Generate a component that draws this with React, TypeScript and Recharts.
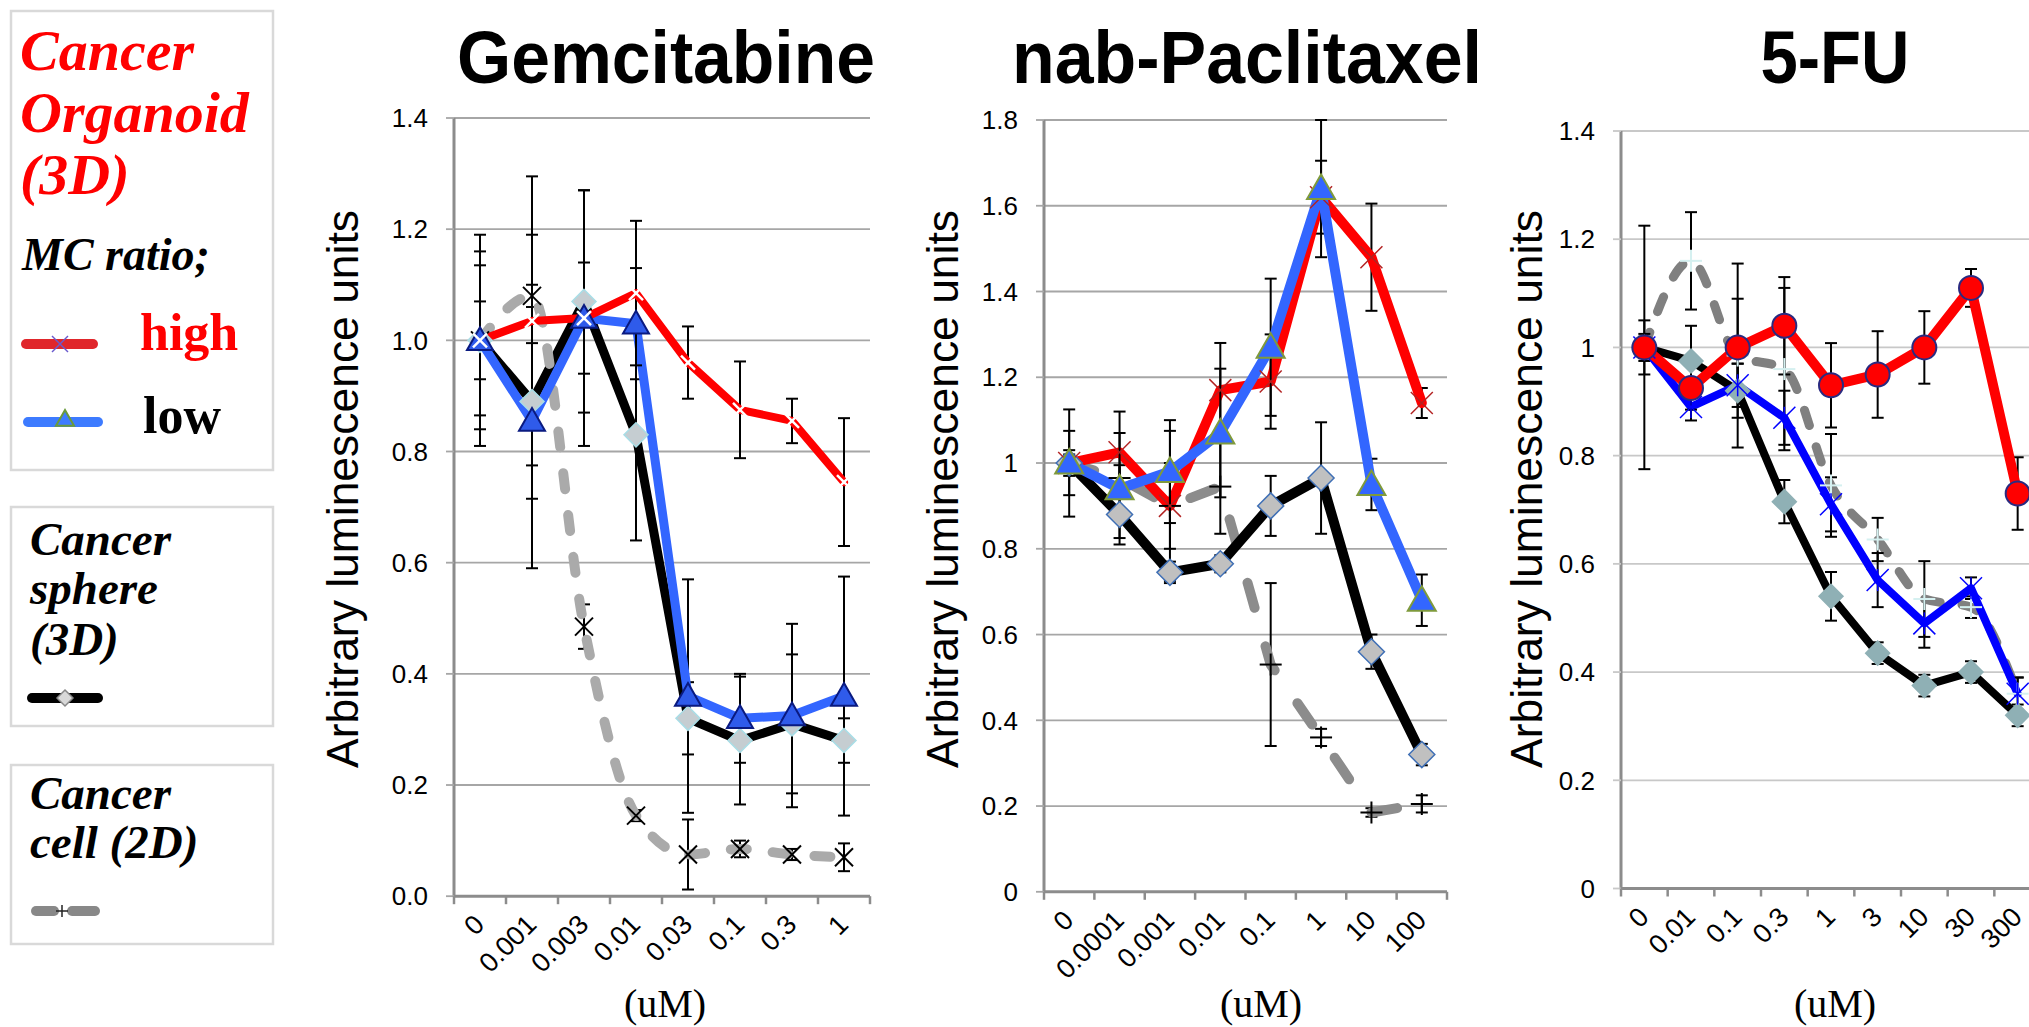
import React from 'react';
import { LineChart, Line, XAxis, YAxis, CartesianGrid, ErrorBar } from 'recharts';

// Gemcitabine
const gemDoses = ['0', '0.001', '0.003', '0.01', '0.03', '0.1', '0.3', '1'];
const gemHigh = [1.0, 1.035, 1.04, 1.085, 0.96, 0.875, 0.855, 0.745];
const gemHighErr = [0.135, 0.26, 0.23, 0.13, 0.065, 0.087, 0.04, 0.115];
const gemLow = [1.0, 0.855, 1.04, 1.03, 0.36, 0.32, 0.325, 0.36];
const gemLowErr = [0.19, 0.14, 0.1, 0.1, 0.21, 0.08, 0.165, 0.215];
const gemSphere = [1.0, 0.89, 1.07, 0.83, 0.32, 0.28, 0.31, 0.28];
const gemSphereErr = [0.16, 0.3, 0.2, 0.19, 0.065, 0.115, 0.125, 0.04];
const gemCell = [1.0, 1.08, 0.485, 0.145, 0.075, 0.085, 0.075, 0.07];
const gemCellErr = [0.07, 0.02, 0.04, 0.01, 0.063, 0.015, 0.01, 0.025];

// nab-Paclitaxel
const nabDoses = ['0', '0.0001', '0.001', '0.01', '0.1', '1', '10', '100'];
const nabHigh = [1.0, 1.025, 0.9, 1.17, 1.19, 1.62, 1.48, 1.14];
const nabHighErr = [0.075, 0.095, 0.1, 0.11, 0.11, 0.085, 0.125, 0.035];
const nabLow = [1.0, 0.94, 0.98, 1.07, 1.27, 1.64, 0.95, 0.68];
const nabLowErr = [0.125, 0.13, 0.12, 0.15, 0.16, 0.16, 0.06, 0.06];
const nabSphere = [1.0, 0.88, 0.745, 0.765, 0.9, 0.965, 0.56, 0.32];
const nabSphereErr = [0.03, 0.055, 0.025, 0.02, 0.07, 0.13, 0.04, 0.025];
const nabCell = [1.0, 0.965, 0.9, 0.945, 0.53, 0.36, 0.185, 0.205];
const nabCellErr = [0.02, 0.03, 0.175, 0.11, 0.19, 0.02, 0.01, 0.02];

// 5-FU
const fuDoses = ['0', '0.01', '0.1', '0.3', '1', '3', '10', '30', '300'];
const fuHigh = [1.0, 0.925, 1.0, 1.04, 0.93, 0.95, 1.0, 1.11, 0.73];
const fuHighErr = [0.05, 0.04, 0.09, 0.09, 0.078, 0.08, 0.067, 0.035, 0.067];
const fuLow = [1.0, 0.89, 0.93, 0.87, 0.71, 0.57, 0.49, 0.555, 0.36];
const fuLowErr = [0.025, 0.025, 0.04, 0.05, 0.05, 0.05, 0.045, 0.02, 0.03];
const fuSphere = [1.0, 0.975, 0.92, 0.715, 0.54, 0.435, 0.375, 0.4, 0.32];
const fuSphereErr = [0.02, 0.065, 0.05, 0.04, 0.045, 0.02, 0.02, 0.02, 0.02];
const fuCell = [1.0, 1.16, 0.985, 0.96, 0.745, 0.645, 0.535, 0.52, 0.36];
const fuCellErr = [0.225, 0.09, 0.17, 0.15, 0.095, 0.04, 0.07, 0.02, 0.03];

const ticks14 = [0, 0.2, 0.4, 0.6, 0.8, 1.0, 1.2, 1.4];
const ticks18 = [0, 0.2, 0.4, 0.6, 0.8, 1.0, 1.2, 1.4, 1.6, 1.8];

const AXIS = '#8c8c8c';
const SANS = "'Liberation Sans', Arial, sans-serif";
const SERIF = "'Liberation Serif', 'Times New Roman', serif";

function rows(doses: string[], cols: Record<string, number[]>) {
  return doses.map((dose, i) => {
    const r: Record<string, any> = { dose };
    Object.keys(cols).forEach((k) => (r[k] = cols[k][i]));
    return r;
  });
}

type Draw = (cx: number, cy: number) => React.ReactNode;

const marker = (draw: Draw) => (p: any) => {
  const { cx, cy, index } = p;
  if (cx == null || cy == null) return <g key={`n${index}`} />;
  return <g key={`m${index}`}>{draw(cx, cy)}</g>;
};

const cross = (s: number, c: string, w: number): Draw => (x, y) => (
  <>
    <line x1={x - s} y1={y - s} x2={x + s} y2={y + s} stroke={c} strokeWidth={w} />
    <line x1={x - s} y1={y + s} x2={x + s} y2={y - s} stroke={c} strokeWidth={w} />
  </>
);
const plus = (s: number, c: string, w: number): Draw => (x, y) => (
  <>
    <line x1={x - s} y1={y} x2={x + s} y2={y} stroke={c} strokeWidth={w} />
    <line x1={x} y1={y - s} x2={x} y2={y + s} stroke={c} strokeWidth={w} />
  </>
);
const star = (s: number, c: string, w: number): Draw => (x, y) => (
  <>
    {cross(s, c, w)(x, y)}
    <line x1={x} y1={y - s} x2={x} y2={y + s} stroke={c} strokeWidth={w} />
  </>
);
const tri = (s: number, fill: string, stroke: string): Draw => (x, y) => (
  <polygon
    points={`${x},${y - s} ${x + s},${y + s * 0.75} ${x - s},${y + s * 0.75}`}
    fill={fill}
    stroke={stroke}
    strokeWidth={2}
  />
);
const dia = (s: number, fill: string, stroke: string): Draw => (x, y) => (
  <polygon
    points={`${x},${y - s} ${x + s},${y} ${x},${y + s} ${x - s},${y}`}
    fill={fill}
    stroke={stroke}
    strokeWidth={1.5}
  />
);
const circ = (r: number, fill: string, stroke: string): Draw => (x, y) => (
  <circle cx={x} cy={y} r={r} fill={fill} stroke={stroke} strokeWidth={2} />
);

interface Series {
  key: string;
  err: string;
  color: string;
  width: number;
  dash?: string;
  curve: 'linear' | 'monotone';
  dot: (p: any) => React.ReactElement;
}

interface PanelProps {
  data: any[];
  cats: string[];
  left: number;
  top: number;
  w: number;
  h: number;
  max: number;
  ticks: number[];
  fmt: (v: number) => string;
  grid: string;
  series: Series[];
}

function Panel(p: PanelProps) {
  const band = p.w / p.cats.length;
  const XTick = (t: any) => {
    const { x, y, payload, index } = t;
    const ax = x + 6;
    const ay = y + 30;
    return (
      <g>
        <line x1={x - band / 2} y1={y} x2={x - band / 2} y2={y + 8} stroke={AXIS} strokeWidth={2.5} />
        {index === p.cats.length - 1 && (
          <line x1={x + band / 2} y1={y} x2={x + band / 2} y2={y + 8} stroke={AXIS} strokeWidth={2.5} />
        )}
        <text
          x={ax}
          y={ay}
          transform={`rotate(-45 ${ax} ${ay})`}
          textAnchor="end"
          fontSize={27}
          fontFamily={SANS}
          fill="#000"
        >
          {payload.value}
        </text>
      </g>
    );
  };
  return (
    <div style={{ position: 'absolute', left: p.left - 90, top: p.top - 20 }}>
      <LineChart
        width={p.w + 110}
        height={p.h + 120}
        data={p.data}
        margin={{ top: 20, right: 20, bottom: 0, left: 0 }}
      >
        <CartesianGrid vertical={false} stroke={p.grid} strokeWidth={1.8} />
        <XAxis
          dataKey="dose"
          scale="point"
          padding={{ left: band / 2, right: band / 2 }}
          axisLine={{ stroke: AXIS, strokeWidth: 3 }}
          tickLine={false}
          tickSize={0}
          tickMargin={0}
          tick={XTick}
          interval={0}
          height={100}
        />
        <YAxis
          domain={[0, p.max]}
          ticks={p.ticks}
          tickFormatter={p.fmt}
          width={90}
          axisLine={{ stroke: AXIS, strokeWidth: 3 }}
          tickLine={{ stroke: p.grid, strokeWidth: 1.8 }}
          tickSize={8}
          tickMargin={18}
          tick={{ fontSize: 26, fill: '#000', fontFamily: SANS }}
          allowDataOverflow
        />
        {p.series.map((s) => (
          <Line
            key={s.key}
            dataKey={s.key}
            type={s.curve}
            stroke={s.color}
            strokeWidth={s.width}
            strokeDasharray={s.dash}
            strokeLinecap="round"
            strokeLinejoin="round"
            dot={s.dot}
            activeDot={false}
            isAnimationActive={false}
          >
            <ErrorBar dataKey={s.err} width={6} stroke="#000" strokeWidth={2} direction="y" isAnimationActive={false} />
          </Line>
        ))}
      </LineChart>
    </div>
  );
}

const gemData = rows(gemDoses, {
  high: gemHigh, highErr: gemHighErr, low: gemLow, lowErr: gemLowErr,
  sphere: gemSphere, sphereErr: gemSphereErr, cell: gemCell, cellErr: gemCellErr,
});
const nabData = rows(nabDoses, {
  high: nabHigh, highErr: nabHighErr, low: nabLow, lowErr: nabLowErr,
  sphere: nabSphere, sphereErr: nabSphereErr, cell: nabCell, cellErr: nabCellErr,
});
const fuData = rows(fuDoses, {
  high: fuHigh, highErr: fuHighErr, low: fuLow, lowErr: fuLowErr,
  sphere: fuSphere, sphereErr: fuSphereErr, cell: fuCell, cellErr: fuCellErr,
});

const gemSeries: Series[] = [
  { key: 'sphere', err: 'sphereErr', color: '#000', width: 9, curve: 'linear', dot: marker(dia(12, '#c5cdd1', '#a8dde6')) },
  { key: 'cell', err: 'cellErr', color: '#aaaaaa', width: 10, dash: '16 26', curve: 'monotone', dot: marker(cross(9, '#000', 2)) },
  { key: 'low', err: 'lowErr', color: '#3366ff', width: 9, curve: 'linear', dot: marker(tri(13, '#2f5bea', '#0a1a80')) },
  { key: 'high', err: 'highErr', color: '#ff0000', width: 8, curve: 'linear', dot: marker(cross(7, '#fff', 2.5)) },
];
const nabSeries: Series[] = [
  { key: 'cell', err: 'cellErr', color: '#8c8c8c', width: 10, dash: '26 40', curve: 'linear', dot: marker(plus(11, '#000', 2)) },
  { key: 'sphere', err: 'sphereErr', color: '#000', width: 10, curve: 'linear', dot: marker(dia(13, '#c0c0c0', '#3f6fb5')) },
  { key: 'high', err: 'highErr', color: '#ff0000', width: 10, curve: 'linear', dot: marker(cross(11, '#b22222', 1.5)) },
  { key: 'low', err: 'lowErr', color: '#3366ff', width: 10, curve: 'linear', dot: marker(tri(14, '#3366ff', '#7f9a3c')) },
];
const fuSeries: Series[] = [
  { key: 'sphere', err: 'sphereErr', color: '#000', width: 8, curve: 'linear', dot: marker(dia(12, '#8fb0b5', '#8fb0b5')) },
  { key: 'cell', err: 'cellErr', color: '#808080', width: 9, dash: '16 22', curve: 'monotone', dot: marker(plus(11, '#d5f0f0', 2)) },
  { key: 'low', err: 'lowErr', color: '#0000ff', width: 8, curve: 'linear', dot: marker(star(11, '#0000ff', 1.5)) },
  { key: 'high', err: 'highErr', color: '#ff0000', width: 10, curve: 'linear', dot: marker(circ(12, '#ff0000', '#2a2a80')) },
];

const fmt1 = (v: number) => v.toFixed(1);
const fmtShort = (v: number) => (v === 0 ? '0' : v === 1 ? '1' : String(+v.toFixed(1)));

function YLabel({ x }: { x: number }) {
  return (
    <text
      x={x}
      y={489}
      transform={`rotate(-90 ${x} 489)`}
      textAnchor="middle"
      fontSize={44}
      fontFamily={SANS}
      textLength={558}
      lengthAdjust="spacingAndGlyphs"
    >
      Arbitrary luminescence units
    </text>
  );
}

function Title({ x, text, len }: { x: number; text: string; len: number }) {
  return (
    <text
      x={x}
      y={83}
      textAnchor="middle"
      fontSize={74}
      fontWeight="bold"
      fontFamily={SANS}
      textLength={len}
      lengthAdjust="spacingAndGlyphs"
    >
      {text}
    </text>
  );
}

function Unit({ x }: { x: number }) {
  return (
    <text x={x} y={1017} textAnchor="middle" fontSize={40} fontFamily={SERIF}>
      (uM)
    </text>
  );
}

function Legend() {
  const bi = { fontFamily: SERIF, fontStyle: 'italic', fontWeight: 'bold' } as const;
  return (
    <g>
      <rect x={11} y={11} width={262} height={459} fill="none" stroke="#d9d9d9" strokeWidth={2.5} />
      <text x={20} y={70} fill="#ff0000" fontSize={58} {...bi}>Cancer</text>
      <text x={20} y={132} fill="#ff0000" fontSize={58} {...bi}>Organoid</text>
      <text x={20} y={194} fill="#ff0000" fontSize={58} {...bi}>(3D)</text>
      <text x={22} y={270} fill="#000" fontSize={46} {...bi}>MC ratio;</text>
      <line x1={26} y1={344} x2={93} y2={344} stroke="#e0262b" strokeWidth={10} strokeLinecap="round" />
      {cross(8, '#6a5acd', 1.5)(60, 344)}
      <text x={140} y={350} fill="#ff0000" fontSize={52} fontWeight="bold" fontFamily={SERIF}>high</text>
      <line x1={28} y1={422} x2={98} y2={422} stroke="#3d7bff" strokeWidth={10} strokeLinecap="round" />
      {tri(9, '#3d7bff', '#6b9a3a')(65, 419)}
      <text x={143} y={433} fill="#000" fontSize={52} fontWeight="bold" fontFamily={SERIF}>low</text>

      <rect x={11} y={507} width={262} height={219} fill="none" stroke="#d9d9d9" strokeWidth={2.5} />
      <text x={30} y={555} fill="#000" fontSize={47} {...bi}>Cancer</text>
      <text x={30} y={604} fill="#000" fontSize={47} {...bi}>sphere</text>
      <text x={30} y={655} fill="#000" fontSize={47} {...bi}>(3D)</text>
      <line x1={32} y1={698} x2={98} y2={698} stroke="#000" strokeWidth={10} strokeLinecap="round" />
      {dia(8, '#d9d9d9', '#888')(65, 698)}

      <rect x={11} y={765} width={262} height={179} fill="none" stroke="#d9d9d9" strokeWidth={2.5} />
      <text x={30} y={809} fill="#000" fontSize={47} {...bi}>Cancer</text>
      <text x={30} y={858} fill="#000" fontSize={47} {...bi}>cell (2D)</text>
      <line x1={36} y1={911} x2={54} y2={911} stroke="#888" strokeWidth={10} strokeLinecap="round" />
      <line x1={72} y1={911} x2={95} y2={911} stroke="#888" strokeWidth={10} strokeLinecap="round" />
      {plus(6, '#222', 1.5)(62, 911)}
    </g>
  );
}

export default function App() {
  return (
    <div
      style={{
        position: 'fixed',
        left: 0,
        top: 0,
        width: 2029,
        height: 1027,
        overflow: 'hidden',
        background: '#fff',
      }}
    >
      <Panel data={gemData} cats={gemDoses} left={453.6} top={117.5} w={416} h={778.2} max={1.4}
        ticks={ticks14} fmt={fmt1} grid="#a6a6a6" series={gemSeries} />
      <Panel data={nabData} cats={nabDoses} left={1044.4} top={120.2} w={403} h={771.8} max={1.8}
        ticks={ticks18} fmt={fmtShort} grid="#a6a6a6" series={nabSeries} />
      <Panel data={fuData} cats={fuDoses} left={1620.7} top={130.8} w={420} h={757.5} max={1.4}
        ticks={ticks14} fmt={fmtShort} grid="#c8c8c8" series={fuSeries} />
      <svg
        width={2029}
        height={1027}
        style={{ position: 'absolute', left: 0, top: 0, pointerEvents: 'none' }}
      >
        <Legend />
        <Title x={666} text="Gemcitabine" len={418} />
        <Title x={1247} text="nab-Paclitaxel" len={470} />
        <Title x={1835} text="5-FU" len={149} />
        <YLabel x={358} />
        <YLabel x={958} />
        <YLabel x={1542} />
        <Unit x={665} />
        <Unit x={1261} />
        <Unit x={1835} />
      </svg>
    </div>
  );
}
